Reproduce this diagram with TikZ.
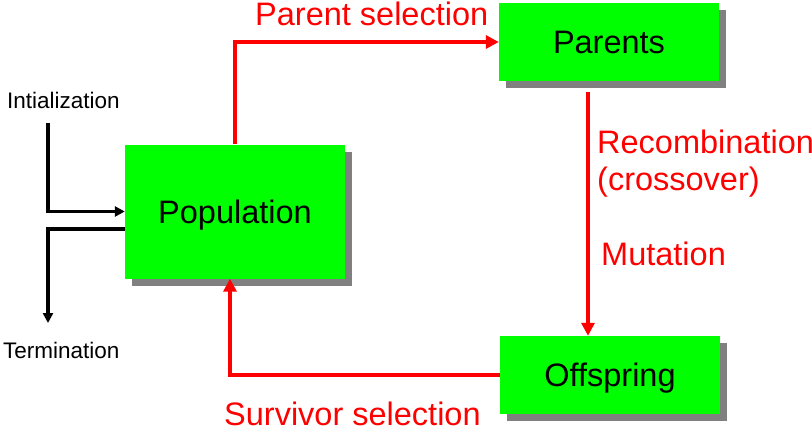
\documentclass[tikz,border=0pt]{standalone}
\usepackage{fontspec}
\setmainfont{Liberation Sans}
\definecolor{boxgreen}{RGB}{0,255,0}
\definecolor{shadowgray}{RGB}{128,128,128}
\definecolor{flowred}{RGB}{255,0,0}
\usetikzlibrary{arrows.meta,positioning,calc,shadows}
\tikzset{
    stagebox/.style={fill=boxgreen, minimum width=220pt, inner sep=0pt, text height=23pt, text depth=0pt, font=\fontsize{32.5}{37}\selectfont, drop shadow={shadow xshift=7pt, shadow yshift=-7pt, fill=shadowgray, opacity=1}},
    redlabel/.style={text=flowred, font=\fontsize{32.5}{37}\selectfont, inner sep=0pt, align=left},
    blacklabel/.style={font=\fontsize{22.5}{26}\selectfont, inner sep=0pt},
    redarrow/.style={-{Triangle[length=13pt,width=13pt]}, color=flowred, line width=4.8pt},
    blackarrow/.style={-{Triangle[length=10pt,width=10pt]}, line width=3.4pt}
}
\begin{document}
\begin{tikzpicture}[x=1pt, y=-1pt]
    \useasboundingbox (0,0) rectangle (812,429);
    \node[stagebox, minimum height=134pt] (pop) at (235,211.5) {Population};
    \node[stagebox, minimum height=78pt] (par) at (609,42) {Parents};
    \node[stagebox, minimum height=78pt] (off) at (610,375) {Offspring};

    \coordinate (rtop) at (588,92);
    \coordinate (initstart) at (48,123);
    \coordinate (termend) at (48,323);

    \draw[redarrow] (pop.north) |- (par.west);
    \draw[redarrow] (rtop) -- (rtop |- off.north);
    \draw[redarrow] (off.west) -| ([xshift=-5pt]pop.south);
    \draw[blackarrow] (initstart) |- (pop.west);
    \draw[blackarrow] ([yshift=-17.5pt]pop.west) -| (termend);

    \node[blacklabel, anchor=base west] (initlabel) at (7,108) {Intialization};
    \node[blacklabel, anchor=base west] (termlabel) at (3,358) {Termination};
    \node[redlabel, anchor=base west] (parsel) at (255,25) {Parent selection};
    \node[redlabel, anchor=north west] (recomb) at (597,129.5) {Recombination\\(crossover)};
    \node[redlabel, anchor=base west] (mutlabel) at (601,265) {Mutation};
    \node[redlabel, anchor=base west] (survsel) at (224,425) {Survivor selection};
\end{tikzpicture}
\end{document}
